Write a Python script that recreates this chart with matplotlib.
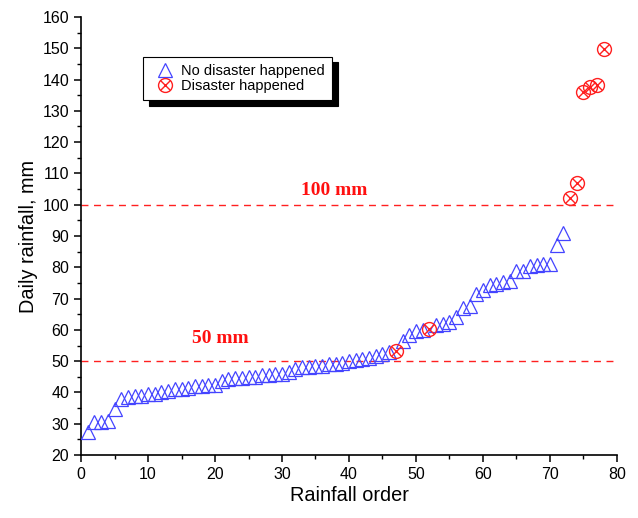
import matplotlib
matplotlib.use("Agg")
import matplotlib.pyplot as plt
from matplotlib.ticker import MultipleLocator
from matplotlib.legend_handler import HandlerTuple

# Daily rainfall sorted by rank; events without a disaster
no_disaster_order = list(range(1, 47)) + [48, 49, 50, 51] + list(range(53, 73))
no_disaster_rain = [
    27.3, 30.5, 30.5, 30.8, 34.8, 37.8, 38.5, 39.0, 39.0, 39.5,
    39.5, 40.0, 40.5, 41.0, 41.2, 41.5, 42.0, 42.0, 42.5, 42.5,
    43.5, 44.2, 44.5, 44.6, 45.0, 45.0, 45.5, 45.6, 46.0, 46.0,
    46.5, 47.5, 48.0, 48.2, 48.5, 48.6, 49.0, 49.1, 49.5, 50.0,
    50.5, 50.6, 51.0, 51.5, 52.3, 53.0,
    56.5, 58.5, 59.5, 59.8,
    61.5, 61.8, 62.4, 64.0, 67.1, 67.6, 71.4, 72.9, 74.3, 74.8,
    75.3, 75.5, 78.7, 78.8, 80.5, 80.7, 80.9, 81.2, 87.0, 91.0,
]
# Events followed by a disaster
disaster_order = [47, 52, 73, 74, 75, 76, 77, 78]
disaster_rain = [53.3, 60.3, 102.3, 107.0, 136.1, 137.7, 138.4, 149.8]

thresholds = [100, 50]
threshold_labels = ["100 mm", "50 mm"]
threshold_label_pos = [(37.8, 104.5), (20.8, 57.3)]

fig = plt.figure(figsize=(6.38, 5.18), dpi=100)
ax = fig.add_axes([0.127, 0.1216, 0.840, 0.8456])

for t in thresholds:
    ax.axhline(t, color="#ff2020", lw=1.0, ls=(0, (5, 4)), zorder=1)
for lbl, (tx, ty) in zip(threshold_labels, threshold_label_pos):
    ax.text(tx, ty, lbl, color="#ff1010", fontsize=14, fontweight="bold",
            family="Liberation Serif", ha="center", va="center")

blue = "#4444ff"
red = "#ff2020"
tri, = ax.plot(no_disaster_order, no_disaster_rain, ls="none", marker="^",
               ms=9.5, mfc="none", mec=blue, mew=0.9, zorder=3)
circ, = ax.plot(disaster_order, disaster_rain, ls="none", marker="o",
                ms=10, mfc="none", mec=red, mew=1.0, zorder=4)
cross, = ax.plot(disaster_order, disaster_rain, ls="none", marker="x",
                 ms=7, mec=red, mew=1.0, zorder=4)

ax.set_xlim(0, 80)
ax.set_ylim(20, 160)
ax.xaxis.set_major_locator(MultipleLocator(10))
ax.xaxis.set_minor_locator(MultipleLocator(5))
ax.yaxis.set_major_locator(MultipleLocator(10))
ax.yaxis.set_minor_locator(MultipleLocator(5))
ax.spines["top"].set_visible(False)
ax.spines["right"].set_visible(False)
for s in ("left", "bottom"):
    ax.spines[s].set_linewidth(1.2)
ax.tick_params(which="major", direction="out", length=5, width=1.1,
               labelsize=11.5)
ax.tick_params(which="minor", direction="out", length=3, width=1.0)
for lab in ax.get_xticklabels() + ax.get_yticklabels():
    lab.set_family("Liberation Sans")

ax.set_xlabel("Rainfall order", fontsize=14.3, family="Liberation Sans",
              labelpad=3)
ax.set_ylabel("Daily rainfall, mm", fontsize=14.3, family="Liberation Sans",
              labelpad=3)

leg = ax.legend([tri, (circ, cross)],
                ["No disaster happened", "Disaster happened"],
                handler_map={tuple: HandlerTuple(ndivide=1, pad=0)},
                loc="upper left", bbox_to_anchor=(0.1157, 0.909),
                borderaxespad=0,
                prop={"family": "Liberation Sans", "size": 10.5},
                fancybox=False,
                shadow={"color": "black", "alpha": 1, "ox": 4, "oy": -4},
                edgecolor="black", framealpha=1, borderpad=0.5,
                labelspacing=0.05, handletextpad=0.1, handlelength=2.0)
leg.get_frame().set_linewidth(0.8)

fig.savefig("out.png", dpi=100)
